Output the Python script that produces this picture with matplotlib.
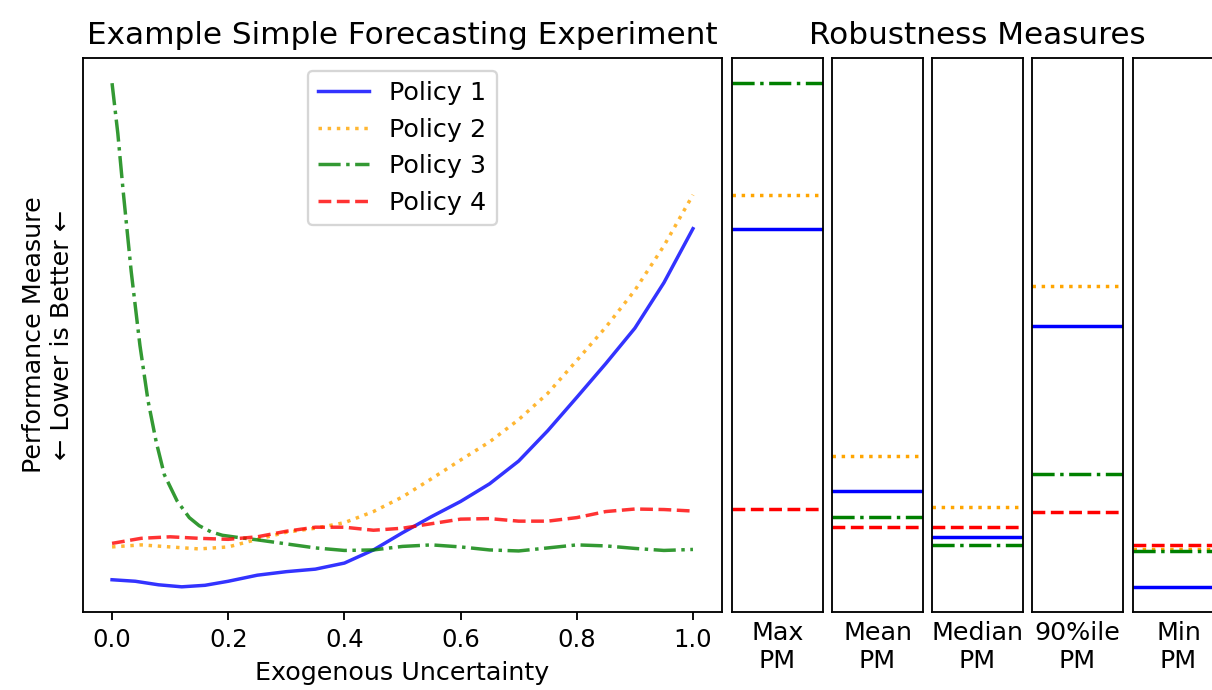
import numpy as np
import matplotlib
matplotlib.use("Agg")
import matplotlib.pyplot as plt

# Performance measure of each policy across the exogenous uncertainty
x_grid = [0.0, 0.05, 0.10, 0.15, 0.20, 0.25, 0.30, 0.35, 0.40, 0.45, 0.50,
          0.55, 0.60, 0.65, 0.70, 0.75, 0.80, 0.85, 0.90, 0.95, 1.0]
x_policy1 = [0.0, 0.04, 0.08, 0.12, 0.16, 0.20, 0.25, 0.30, 0.35, 0.40, 0.45,
             0.50, 0.55, 0.60, 0.65, 0.70, 0.75, 0.80, 0.85, 0.90, 0.95, 1.0]
policy1 = [0.17, 0.14, 0.07, 0.03, 0.06, 0.14, 0.26, 0.33, 0.38, 0.50, 0.76,
           1.10, 1.42, 1.72, 2.07, 2.52, 3.12, 3.78, 4.45, 5.15, 6.05, 7.12]
policy2 = [0.82, 0.86, 0.82, 0.78, 0.82, 0.97, 1.11, 1.19, 1.30, 1.52, 1.81,
           2.17, 2.54, 2.90, 3.34, 3.86, 4.51, 5.17, 5.90, 6.78, 7.79]
x_policy3 = [0.0, 0.01, 0.019, 0.033, 0.048, 0.062, 0.076, 0.090, 0.112, 0.133,
             0.150, 0.170, 0.190, 0.215, 0.25, 0.30, 0.35, 0.40, 0.45, 0.50,
             0.55, 0.60, 0.65, 0.70, 0.75, 0.80, 0.85, 0.90, 0.95, 1.0]
policy3 = [10.0, 9.0, 7.88, 6.27, 4.81, 3.71, 2.90, 2.25, 1.73, 1.40,
           1.24, 1.12, 1.05, 1.01, 0.96, 0.88, 0.80, 0.75, 0.76, 0.83,
           0.86, 0.82, 0.76, 0.74, 0.80, 0.86, 0.84, 0.79, 0.75, 0.77]
policy4 = [0.89, 0.99, 1.02, 0.99, 0.97, 1.02, 1.13, 1.21, 1.21, 1.15, 1.19,
           1.28, 1.37, 1.38, 1.33, 1.33, 1.40, 1.52, 1.57, 1.56, 1.53]

policy_names = ["Policy 1", "Policy 2", "Policy 3", "Policy 4"]

# Robustness measures, one value per policy (Policy 1..4)
measure_names = ["Max\nPM", "Mean\nPM", "Median\nPM", "90%ile\nPM", "Min\nPM"]
max_pm = [7.12, 7.79, 10.0, 1.57]
mean_pm = [1.92, 2.62, 1.41, 1.21]
median_pm = [1.01, 1.61, 0.86, 1.21]
pct90_pm = [5.20, 5.99, 2.27, 1.51]
min_pm = [0.03, 0.78, 0.74, 0.85]

colors = ["blue", "orange", "green", "red"]
styles = ["-", ":", "-.", "--"]

DPI = 166
fig = plt.figure(figsize=(1212 / DPI, 690 / DPI), dpi=DPI)
W, H = 1212, 690
LABEL_SIZE = 11
TITLE_SIZE = 13.5


def box(left, top, right, bottom):
    return [left / W, 1 - bottom / H, (right - left) / W, (bottom - top) / H]


ax = fig.add_axes(box(83, 58, 722, 612))
series = [(x_policy1, policy1), (x_grid, policy2), (x_policy3, policy3), (x_grid, policy4)]
for (xs, ys), name, c, ls in zip(series, policy_names, colors, styles):
    ax.plot(xs, ys, color=c, linestyle=ls, label=name, alpha=0.8)
ax.set_yticks([])
ax.tick_params(labelsize=10.5)
ax.set_xlabel("Exogenous Uncertainty", fontsize=LABEL_SIZE)
ax.set_ylabel("Performance Measure\n\u2190 Lower is Better \u2190", fontsize=LABEL_SIZE)
ax.set_title("Example Simple Forecasting Experiment", fontsize=TITLE_SIZE)
ax.legend(loc="upper center", fontsize=LABEL_SIZE)
ylim = ax.get_ylim()

measures = [max_pm, mean_pm, median_pm, pct90_pm, min_pm]
lefts = [732, 832, 932, 1032, 1133]
for i, (vals, label, left) in enumerate(zip(measures, measure_names, lefts)):
    pax = fig.add_axes(box(left, 58, left + 91, 612))
    for v, c, ls in zip(vals, colors, styles):
        pax.axhline(v, color=c, linestyle=ls)
    pax.set_ylim(ylim)
    pax.set_xticks([])
    pax.set_yticks([])
    pax.set_xlabel(label, fontsize=LABEL_SIZE)
    if i == 2:
        pax.set_title("Robustness Measures", fontsize=TITLE_SIZE)

fig.savefig("out.png", dpi=DPI)
